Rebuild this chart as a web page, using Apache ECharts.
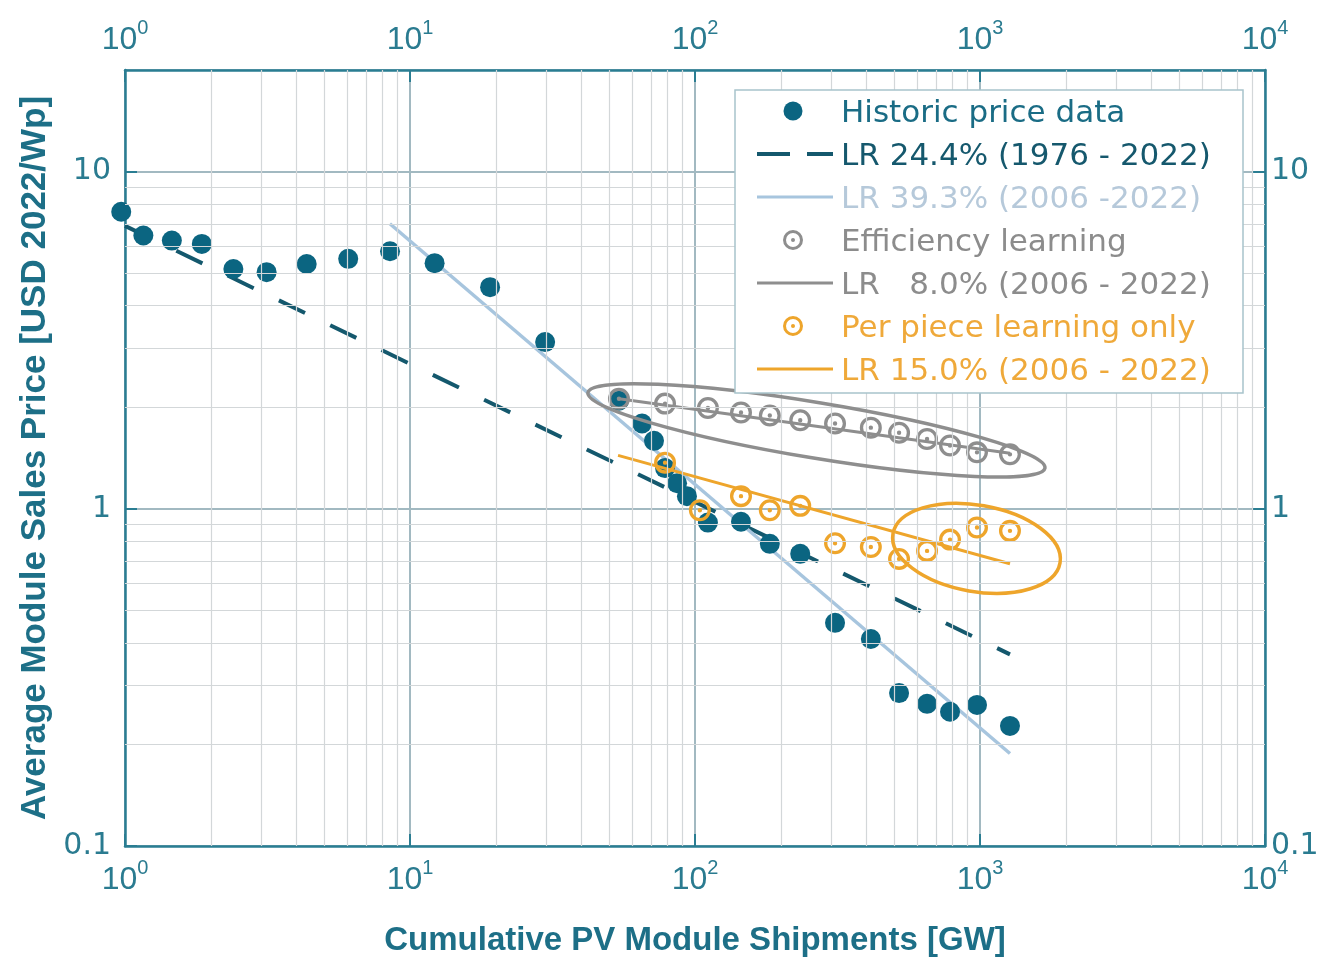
<!DOCTYPE html>
<html>
<head>
<meta charset="utf-8">
<script src="https://cdn.jsdelivr.net/npm/echarts@6/dist/echarts.min.js"></script>
<style>
html,body{margin:0;padding:0;background:#fff;}
#chart{width:1330px;height:964px;}
</style>
</head>
<body>
<div id="chart"></div>
<script>
// ---------- DATA ----------
const histX = [0.97, 1.16, 1.46, 1.86, 2.40, 3.14, 4.34, 6.07, 8.51, 12.2, 19.1, 29.8, 54.1, 65.2, 71.8, 78.5, 86.5, 93.7, 111, 145, 183, 234, 310, 414, 520, 652, 785, 976, 1274];
const histY = [7.6, 6.46, 6.24, 6.10, 5.14, 5.03, 5.32, 5.51, 5.80, 5.35, 4.54, 3.12, 2.09, 1.79, 1.59, 1.32, 1.19, 1.09, 0.91, 0.915, 0.787, 0.735, 0.459, 0.411, 0.284, 0.264, 0.250, 0.262, 0.227];

const effX = [54.1, 78.5, 111, 145, 183, 234, 310, 414, 520, 652, 785, 976, 1274];
const effY = [2.12, 2.05, 1.99, 1.93, 1.89, 1.83, 1.79, 1.74, 1.68, 1.61, 1.54, 1.47, 1.45];

const pieceX = [78.5, 104, 145, 183, 234, 310, 414, 520, 652, 785, 976, 1274];
const pieceY = [1.37, 0.99, 1.09, 0.99, 1.02, 0.79, 0.77, 0.71, 0.75, 0.81, 0.88, 0.86];

const lr244X = [1, 1274];   const lr244Y = [6.9, 0.37];
const lr393X = [8.5, 1274]; const lr393Y = [7.0, 0.188];
const lr80X  = [54.1, 1274]; const lr80Y  = [2.12, 1.46];
const lr150X = [53.7, 1274]; const lr150Y = [1.44, 0.687];

// ellipse annotations: major-axis tips [x1, y1, x2, y2]
const grayEllipseTips   = [42.1, 2.21, 1690, 1.32];
const orangeEllipseTips = [495, 0.843, 1909, 0.691];

const legendNames = ['Historic price data', 'LR 24.4% (1976 - 2022)', 'LR 39.3% (2006 -2022)', 'Efficiency learning', 'LR   8.0% (2006 - 2022)', 'Per piece learning only', 'LR 15.0% (2006 - 2022)'];

const xMinorGrid = [2,3,4,5,6,7,8,9,20,30,40,50,60,70,80,90,200,300,400,500,600,700,800,900,2000,3000,4000,5000,6000,7000,8000,9000];
const yMinorGrid = [0.2,0.3,0.4,0.5,0.6,0.7,0.8,0.9,2,3,4,5,6,7,8,9];

const xAxisTitle = 'Cumulative PV Module Shipments [GW]';
const yAxisTitle = 'Average Module Sales Price [USD 2022/Wp]';

// ---------- STYLE ----------
const C_TEAL = '#0b6581';
const C_DASH = '#14586d';
const C_LBLUE = '#a7c5de';
const C_GRAY = '#8e8e8e';
const C_ORANGE = '#eea52b';
const C_AXIS = '#2a7d92';
const C_LABEL = '#2a7b90';
const C_MAJOR = '#a2b9c1';
const C_MINOR = '#d3d7d9';
const legendTextColors = ['#1a6c85', '#15586d', '#b6c9da', '#8c8c8c', '#8c8c8c', '#efa93a', '#efa93a'];
// legend icon kinds: dot, dash, line, ring
const legendIcons = [['dot', C_TEAL], ['dash', C_DASH], ['line', C_LBLUE], ['ring', C_GRAY], ['line', C_GRAY], ['ring', C_ORANGE], ['line', C_ORANGE]];

const ringPath = 'path://M0,-10A10,10 0 1,1 0,10A10,10 0 1,1 0,-10Z M0,-7A7,7 0 1,0 0,7A7,7 0 1,0 0,-7Z M0,-2A2,2 0 1,1 0,2A2,2 0 1,1 0,-2Z';

const zip = (xs, ys) => xs.map((x, i) => [x, ys[i]]);
const FONT = "'Liberation Sans', Arial, sans-serif";
const LFONT = "'DejaVu Sans', sans-serif";

function ellipseSeries(name, tips, ratio, color) {
  return {
    type: 'custom', name: name, coordinateSystem: 'cartesian2d',
    xAxisIndex: 0, yAxisIndex: 0, silent: true, z: 5,
    data: [tips],
    encode: { x: [0, 2], y: [1, 3] },
    renderItem: function (params, api) {
      const p1 = api.coord([api.value(0), api.value(1)]);
      const p2 = api.coord([api.value(2), api.value(3)]);
      const dx = p2[0] - p1[0], dy = p2[1] - p1[1];
      const a = Math.sqrt(dx * dx + dy * dy) / 2;
      return {
        type: 'ellipse',
        x: (p1[0] + p2[0]) / 2, y: (p1[1] + p2[1]) / 2,
        rotation: -Math.atan2(dy, dx),
        shape: { cx: 0, cy: 0, rx: a, ry: a * ratio },
        style: { fill: 'none', stroke: color, lineWidth: 3.5 }
      };
    }
  };
}

// ---------- LEGEND (drawn as top-level graphic elements) ----------
const LG = { left: 735, top: 90, width: 508, height: 303, rowTop: 21, rowStep: 43, iconX0: 22, iconX1: 98, iconMid: 58, textX: 106, textRaise: 13 };
function legendElements() {
  const els = [{
    type: 'rect', z: 100, silent: true,
    shape: { x: LG.left, y: LG.top, width: LG.width, height: LG.height },
    style: { fill: '#ffffff', stroke: '#a8c4cc', lineWidth: 1.5 }
  }];
  legendNames.forEach((name, i) => {
    const cy = LG.top + LG.rowTop + i * LG.rowStep;
    const kind = legendIcons[i][0], col = legendIcons[i][1];
    const mx = LG.left + LG.iconMid, x0 = LG.left + LG.iconX0, x1 = LG.left + LG.iconX1;
    if (kind === 'dot') {
      els.push({ type: 'circle', z: 101, silent: true, shape: { cx: mx, cy: cy, r: 9.5 }, style: { fill: col } });
    } else if (kind === 'ring') {
      els.push({ type: 'ring', z: 101, silent: true, shape: { cx: mx, cy: cy, r: 10, r0: 7 }, style: { fill: col } });
      els.push({ type: 'circle', z: 101, silent: true, shape: { cx: mx, cy: cy, r: 2 }, style: { fill: col } });
    } else if (kind === 'dash') {
      els.push({ type: 'line', z: 101, silent: true, shape: { x1: x0, y1: cy, x2: x0 + 33, y2: cy }, style: { stroke: col, lineWidth: 4 } });
      els.push({ type: 'line', z: 101, silent: true, shape: { x1: x1 - 26, y1: cy, x2: x1, y2: cy }, style: { stroke: col, lineWidth: 4 } });
    } else {
      els.push({ type: 'line', z: 101, silent: true, shape: { x1: x0, y1: cy, x2: x1, y2: cy }, style: { stroke: col, lineWidth: 3 } });
    }
    els.push({
      type: 'text', z: 101, left: LG.left + LG.textX, top: cy - LG.textRaise,
      style: { text: name, fill: legendTextColors[i], font: "31px 'DejaVu Sans', sans-serif" }
    });
  });
  return els;
}

const supFmt = v => '{b|10}{s|' + Math.round(Math.log10(v)) + '}';
const supRich = {
  b: { fontSize: 32, color: C_LABEL, fontFamily: FONT, verticalAlign: 'bottom', lineHeight: 38 },
  s: { fontSize: 20, color: C_LABEL, fontFamily: FONT, verticalAlign: 'top', lineHeight: 38 }
};
const yFmt = v => (v >= 1 ? String(Math.round(v)) : v.toFixed(1));

const xAxisCommon = {
  type: 'log', logBase: 10, min: 1, max: 10000,
  axisLine: { show: true, lineStyle: { color: C_AXIS, width: 2.5 } },
  axisTick: { show: true, inside: true, length: 12, lineStyle: { color: C_AXIS, width: 2 } },
  axisLabel: { formatter: supFmt, rich: supRich },
};
const yAxisCommon = {
  type: 'log', logBase: 10, min: 0.1, max: 20,
  axisLine: { show: true, lineStyle: { color: C_AXIS, width: 2.5 } },
  axisTick: { show: true, inside: true, length: 12, lineStyle: { color: C_AXIS, width: 2 } },
  axisLabel: { formatter: yFmt, fontSize: 30, color: C_LABEL, fontFamily: LFONT, showMaxLabel: false },
};

const chart = echarts.init(document.getElementById('chart'), null, { renderer: 'canvas' });
const option = {
  animation: false,
  backgroundColor: '#ffffff',
  grid: { left: 125, right: 65, top: 70, bottom: 118, containLabel: false },
  xAxis: [
    Object.assign({}, xAxisCommon, {
      position: 'bottom',
      splitLine: { show: true, lineStyle: { color: C_MAJOR, width: 2 } },
      axisLabel: Object.assign({}, xAxisCommon.axisLabel, { margin: 12 }),
      name: xAxisTitle, nameLocation: 'middle', nameGap: 78,
      nameTextStyle: { fontSize: 33, fontWeight: 'bold', color: '#1d6f87', fontFamily: FONT }
    }),
    Object.assign({}, xAxisCommon, {
      position: 'top',
      splitLine: { show: false },
      axisLabel: Object.assign({}, xAxisCommon.axisLabel, { margin: 14 })
    })
  ],
  yAxis: [
    Object.assign({}, yAxisCommon, {
      position: 'left',
      splitLine: { show: true, lineStyle: { color: C_MAJOR, width: 2 } },
      axisLabel: Object.assign({}, yAxisCommon.axisLabel, { margin: 14 }),
      name: yAxisTitle, nameLocation: 'middle', nameGap: 72, nameRotate: 90,
      nameTextStyle: { fontSize: 35, fontWeight: 'bold', color: '#1d6f87', fontFamily: FONT }
    }),
    Object.assign({}, yAxisCommon, {
      position: 'right',
      splitLine: { show: false },
      axisLabel: Object.assign({}, yAxisCommon.axisLabel, { margin: 6 })
    })
  ],
  graphic: legendElements(),
  series: [
    {
      type: 'line', name: 'minorGrid', data: [], silent: true, z: 1,
      markLine: {
        silent: true, symbol: ['none', 'none'], animation: false,
        label: { show: false },
        lineStyle: { color: C_MINOR, width: 1.2, type: 'solid' },
        emphasis: { disabled: true },
        data: xMinorGrid.map(v => ({ xAxis: v })).concat(yMinorGrid.map(v => ({ yAxis: v })))
      }
    },
    {
      type: 'scatter', name: legendNames[0], data: zip(histX, histY), clip: false,
      symbol: 'circle', symbolSize: 20, itemStyle: { color: C_TEAL, opacity: 1 }, z: 3
    },
    {
      type: 'line', name: legendNames[1], data: zip(lr244X, lr244Y), symbol: 'none', z: 3,
      lineStyle: { color: C_DASH, width: 4, type: [29, 28] }, itemStyle: { color: C_DASH }
    },
    {
      type: 'line', name: legendNames[2], data: zip(lr393X, lr393Y), symbol: 'none', z: 3,
      lineStyle: { color: C_LBLUE, width: 3.5 }, itemStyle: { color: C_LBLUE }
    },
    {
      type: 'scatter', name: legendNames[3], data: zip(effX, effY),
      symbol: ringPath, symbolSize: 22, itemStyle: { color: C_GRAY, opacity: 1 }, z: 4
    },
    {
      type: 'line', name: legendNames[4], data: zip(lr80X, lr80Y), symbol: 'none', z: 4,
      lineStyle: { color: C_GRAY, width: 3 }, itemStyle: { color: C_GRAY }
    },
    {
      type: 'scatter', name: legendNames[5], data: zip(pieceX, pieceY),
      symbol: ringPath, symbolSize: 22, itemStyle: { color: C_ORANGE, opacity: 1 }, z: 4
    },
    {
      type: 'line', name: legendNames[6], data: zip(lr150X, lr150Y), symbol: 'none', z: 4,
      lineStyle: { color: C_ORANGE, width: 3 }, itemStyle: { color: C_ORANGE }
    },
    ellipseSeries('grayEllipse', grayEllipseTips, 0.12, C_GRAY),
    ellipseSeries('orangeEllipse', orangeEllipseTips, 0.51, C_ORANGE)
  ]
};
chart.setOption(option);
</script>
</body>
</html>
